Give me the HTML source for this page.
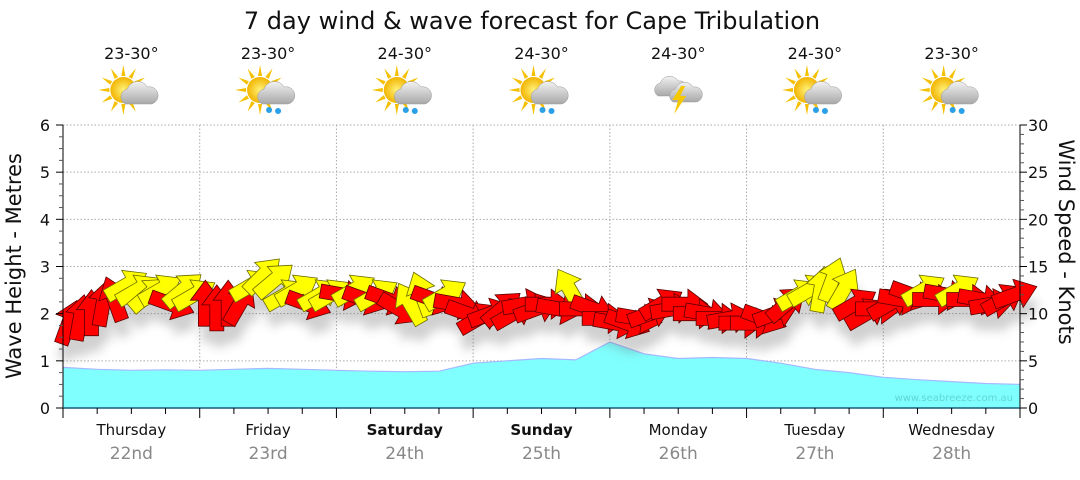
<!DOCTYPE html>
<html><head><meta charset="utf-8">
<style>
body{margin:0;background:#fff;font-family:"Liberation Sans",sans-serif;}
svg text{font-family:"DejaVu Sans","Liberation Sans",sans-serif;}
</style></head>
<body>
<svg id="c" width="1080" height="475" viewBox="0 0 1080 475" xmlns="http://www.w3.org/2000/svg">
<defs>
<filter id="sh" x="-50%" y="-50%" width="200%" height="200%"><feGaussianBlur stdDeviation="5"/></filter>
<radialGradient id="sun" cx="50%" cy="50%" r="50%"><stop offset="0" stop-color="#fff27a"/><stop offset="1" stop-color="#f2b400"/></radialGradient>
<linearGradient id="cloud" x1="0" y1="0" x2="0" y2="1"><stop offset="0" stop-color="#f2f2f2"/><stop offset="1" stop-color="#a8a8a8"/></linearGradient>
</defs>
<text x="532" y="29" font-size="24" text-anchor="middle" fill="#111">7 day wind &amp; wave forecast for Cape Tribulation</text>
<g id="grid"></g>
<g id="wave"></g>
<g id="shadow" filter="url(#sh)" opacity="0.3"></g>
<g id="arrows"></g>
<g id="axes"></g>
<g id="icons"></g>
<text x="1013" y="401" font-size="10" text-anchor="end" fill="#5fd5d5">www.seabreeze.com.au</text>
<text transform="translate(21,266) rotate(-90)" font-size="21" text-anchor="middle" fill="#111">Wave Height - Metres</text>
<text transform="translate(1059,242) rotate(90)" font-size="21" text-anchor="middle" fill="#111">Wind Speed - Knots</text>
</svg>
<script>
const days=["Thursday","Friday","Saturday","Sunday","Monday","Tuesday","Wednesday"];
const dates=["22nd","23rd","24th","25th","26th","27th","28th"];
const boldDays=[false,false,true,true,false,false,false];
const temps=["23-30°","23-30°","24-30°","24-30°","24-30°","24-30°","23-30°"];
const icons=["cloud","rain","rain","rain","storm","rain","rain"];
const waveTicks=[0,1,2,3,4,5,6];
const windTicks=[0,5,10,15,20,25,30];
// wave height, 6-hourly (29 points)
const wave=[0.86,0.82,0.8,0.81,0.8,0.82,0.84,0.82,0.8,0.78,0.77,0.78,0.95,1.0,1.05,1.02,1.4,1.15,1.05,1.07,1.05,0.95,0.82,0.75,0.65,0.6,0.56,0.52,0.5];
// wind, 2-hourly (84 points)
const windSpeed=[9,9.5,10,11,11.5,13,12.5,12,12.5,11,12.5,12,
 11,10.5,11,11,13,14,13.5,12,12.5,11,12,12,
 12,12.5,11.5,12,11.5,10.5,11,12,11.5,12,11,10,
 9.5,10,10.5,10,11,10.5,11,10.5,12.5,10.5,10.5,9.5,
 9,9,9.5,10,11,10.5,11,10,10,9.5,9.5,9,
 9,9.5,10,11,12,12.5,12.5,13.5,12.5,11,10,10.5,
 11,11.5,12,12.5,11.5,12,12.5,11.5,11.5,11,11.5,12];
const windColor=["R","R","R","R","R","Y","Y","Y","Y","R","Y","Y",
 "R","R","R","R","Y","Y","Y","Y","Y","R","Y","Y",
 "R","Y","R","Y","R","R","Y","Y","R","Y","R","R",
 "R","R","R","R","R","R","R","R","Y","R","R","R",
 "R","R","R","R","R","R","R","R","R","R","R","R",
 "R","R","R","R","Y","Y","Y","Y","Y","R","R","R",
 "R","R","R","Y","R","R","Y","R","R","R","R","R"];
const windDir=[20,10,0,10,340,60,60,50,60,110,50,60,
 0,0,0,30,60,45,50,60,60,110,60,60,
 100,60,110,60,110,120,330,340,110,60,100,110,
 60,70,50,60,80,70,90,100,330,90,110,90,
 100,110,100,70,60,80,90,90,100,90,80,90,
 90,110,70,50,60,60,10,20,30,60,60,90,
 60,100,110,60,90,100,60,90,100,80,60,70];

const X0=63,X1=1020,Y0=408,Y1=125;
const NS="http://www.w3.org/2000/svg";
const dayW=(X1-X0)/7;
const xT=h=>X0+h/168*(X1-X0);
const yW=v=>Y0-v/6*(Y0-Y1);
const yK=v=>Y0-v/30*(Y0-Y1);
function mk(p,tag,a){const e=document.createElementNS(NS,tag);for(const k in a)e.setAttribute(k,a[k]);p.appendChild(e);return e;}
const G=id=>document.getElementById(id);

const grid=G('grid');
waveTicks.forEach(t=>{if(t>0){const l=mk(grid,'line',{x1:X0,x2:X1,y1:yW(t),y2:yW(t),stroke:'#aaa','stroke-dasharray':'1.5,2'});

}});
for(let d=1;d<7;d++){const l=mk(grid,'line',{x1:X0+d*dayW,x2:X0+d*dayW,y1:Y1,y2:Y0,stroke:'#aaa','stroke-dasharray':'1.5,2'});

}

let pts=wave.map((v,i)=>[xT(i*6),yW(v)]);
let d='M'+X0+','+Y0+' '+pts.map(p=>'L'+p[0].toFixed(1)+','+p[1].toFixed(1)).join(' ')+' L'+X1+','+Y0+'Z';
const wa=mk(G('wave'),'path',{d:d,fill:'#80ffff'});


const wl=mk(G('wave'),'path',{d:'M'+pts.map(p=>p[0].toFixed(1)+','+p[1].toFixed(1)).join(' L'),fill:'none',stroke:'#a6b8ff','stroke-width':1.2});



const arrowPts="0,-24 15,-4 7,-4 7,22 -7,22 -7,-4 -15,-4";
windSpeed.forEach((s,i)=>{
  const x=xT(i*2+1),y=yK(s);
  const tr=`translate(${x.toFixed(1)},${y.toFixed(1)}) rotate(${windDir[i]})`;
  mk(G('shadow'),'polygon',{points:arrowPts,transform:`translate(${(x+3).toFixed(1)},${(y+16).toFixed(1)}) rotate(${windDir[i]})`,fill:'#666'});
  const a=mk(G('arrows'),'polygon',{points:arrowPts,transform:tr,fill:windColor[i]=="Y"?"#ffff00":"#ff0000",stroke:windColor[i]=="Y"?"#6b6b00":"#5a0000",'stroke-width':0.8});
  
  
});

const ax=G('axes');
mk(ax,'line',{x1:X0,x2:X0,y1:Y1,y2:Y0,stroke:'#000'});
mk(ax,'line',{x1:X1,x2:X1,y1:Y1,y2:Y0,stroke:'#000'});
mk(ax,'line',{x1:X0,x2:X1,y1:Y0,y2:Y0,stroke:'#1a5a7a','stroke-width':1.5});
for(let v=0;v<=6;v+=0.25){const y=yW(v);const maj=v%1==0;mk(ax,'line',{x1:X0-(maj?7:4),x2:X0,y1:y,y2:y,stroke:maj?'#000':'#555'});}
waveTicks.forEach(t=>{const e=mk(ax,'text',{x:50,y:yW(t)+6,'font-size':16,'text-anchor':'end',fill:'#111'});e.textContent=t;

});
for(let v=0;v<=30;v++){const y=yK(v);const maj=v%5==0;mk(ax,'line',{x1:X1,x2:X1+(maj?7:4),y1:y,y2:y,stroke:maj?'#000':'#555'});}
windTicks.forEach(t=>{const e=mk(ax,'text',{x:1028,y:yK(t)+6,'font-size':16,fill:'#111'});e.textContent=t;

});
for(let h=0;h<=168;h+=6){const x=xT(h);const maj=h%24==0;mk(ax,'line',{x1:x,x2:x,y1:Y0,y2:Y0+(maj?10:6),stroke:'#000'});}
days.forEach((n,i)=>{const cx=X0+(i+0.5)*dayW;
 const t=mk(ax,'text',{x:cx,y:435,'font-size':15,'text-anchor':'middle',fill:'#111','font-weight':boldDays[i]?'bold':'normal'});t.textContent=n;
 
 
 const t2=mk(ax,'text',{x:cx,y:459,'font-size':17,'text-anchor':'middle',fill:'#888'});t2.textContent=dates[i];
 
 
 const t3=mk(G('icons'),'text',{x:cx,y:59,'font-size':16,'text-anchor':'middle',fill:'#111'});t3.textContent=temps[i];
 
 
 const g=mk(G('icons'),'g',{transform:`translate(${cx},94)`});
 
 
 if(icons[i]!="storm"){
  for(let k=0;k<12;k++){mk(g,'polygon',{points:"-2,-14 0,-25 2,-14",fill:'#f5c000',transform:`translate(-8,-4) rotate(${k*30})`});}
  mk(g,'circle',{cx:-8,cy:-4,r:13,fill:'url(#sun)'});
  mk(g,'path',{d:'M-6,10 a8,8 0 0 1 2,-15 a11,11 0 0 1 20,-2 a8,8 0 0 1 4,17 z',fill:'url(#cloud)',stroke:'#999','stroke-width':0.5});
  if(icons[i]=="rain"){mk(g,'circle',{cx:1,cy:16,r:3,fill:'#2aa0e8'});mk(g,'circle',{cx:10,cy:17,r:3,fill:'#2aa0e8'});}
 } else {
  mk(g,'path',{d:'M-20,2 a7,7 0 0 1 2,-13 a10,10 0 0 1 18,-2 a7,7 0 0 1 3,15 z',fill:'url(#cloud)',stroke:'#999','stroke-width':0.5});
  mk(g,'path',{d:'M-5,8 a7,7 0 0 1 2,-13 a10,10 0 0 1 18,-2 a7,7 0 0 1 3,15 z',fill:'url(#cloud)',stroke:'#999','stroke-width':0.5});
  mk(g,'polygon',{points:'3,-8 -6,6 0,6 -4,20 8,2 2,2 7,-8',fill:'#f5c800'});
 }
});
</script>
</body></html>
